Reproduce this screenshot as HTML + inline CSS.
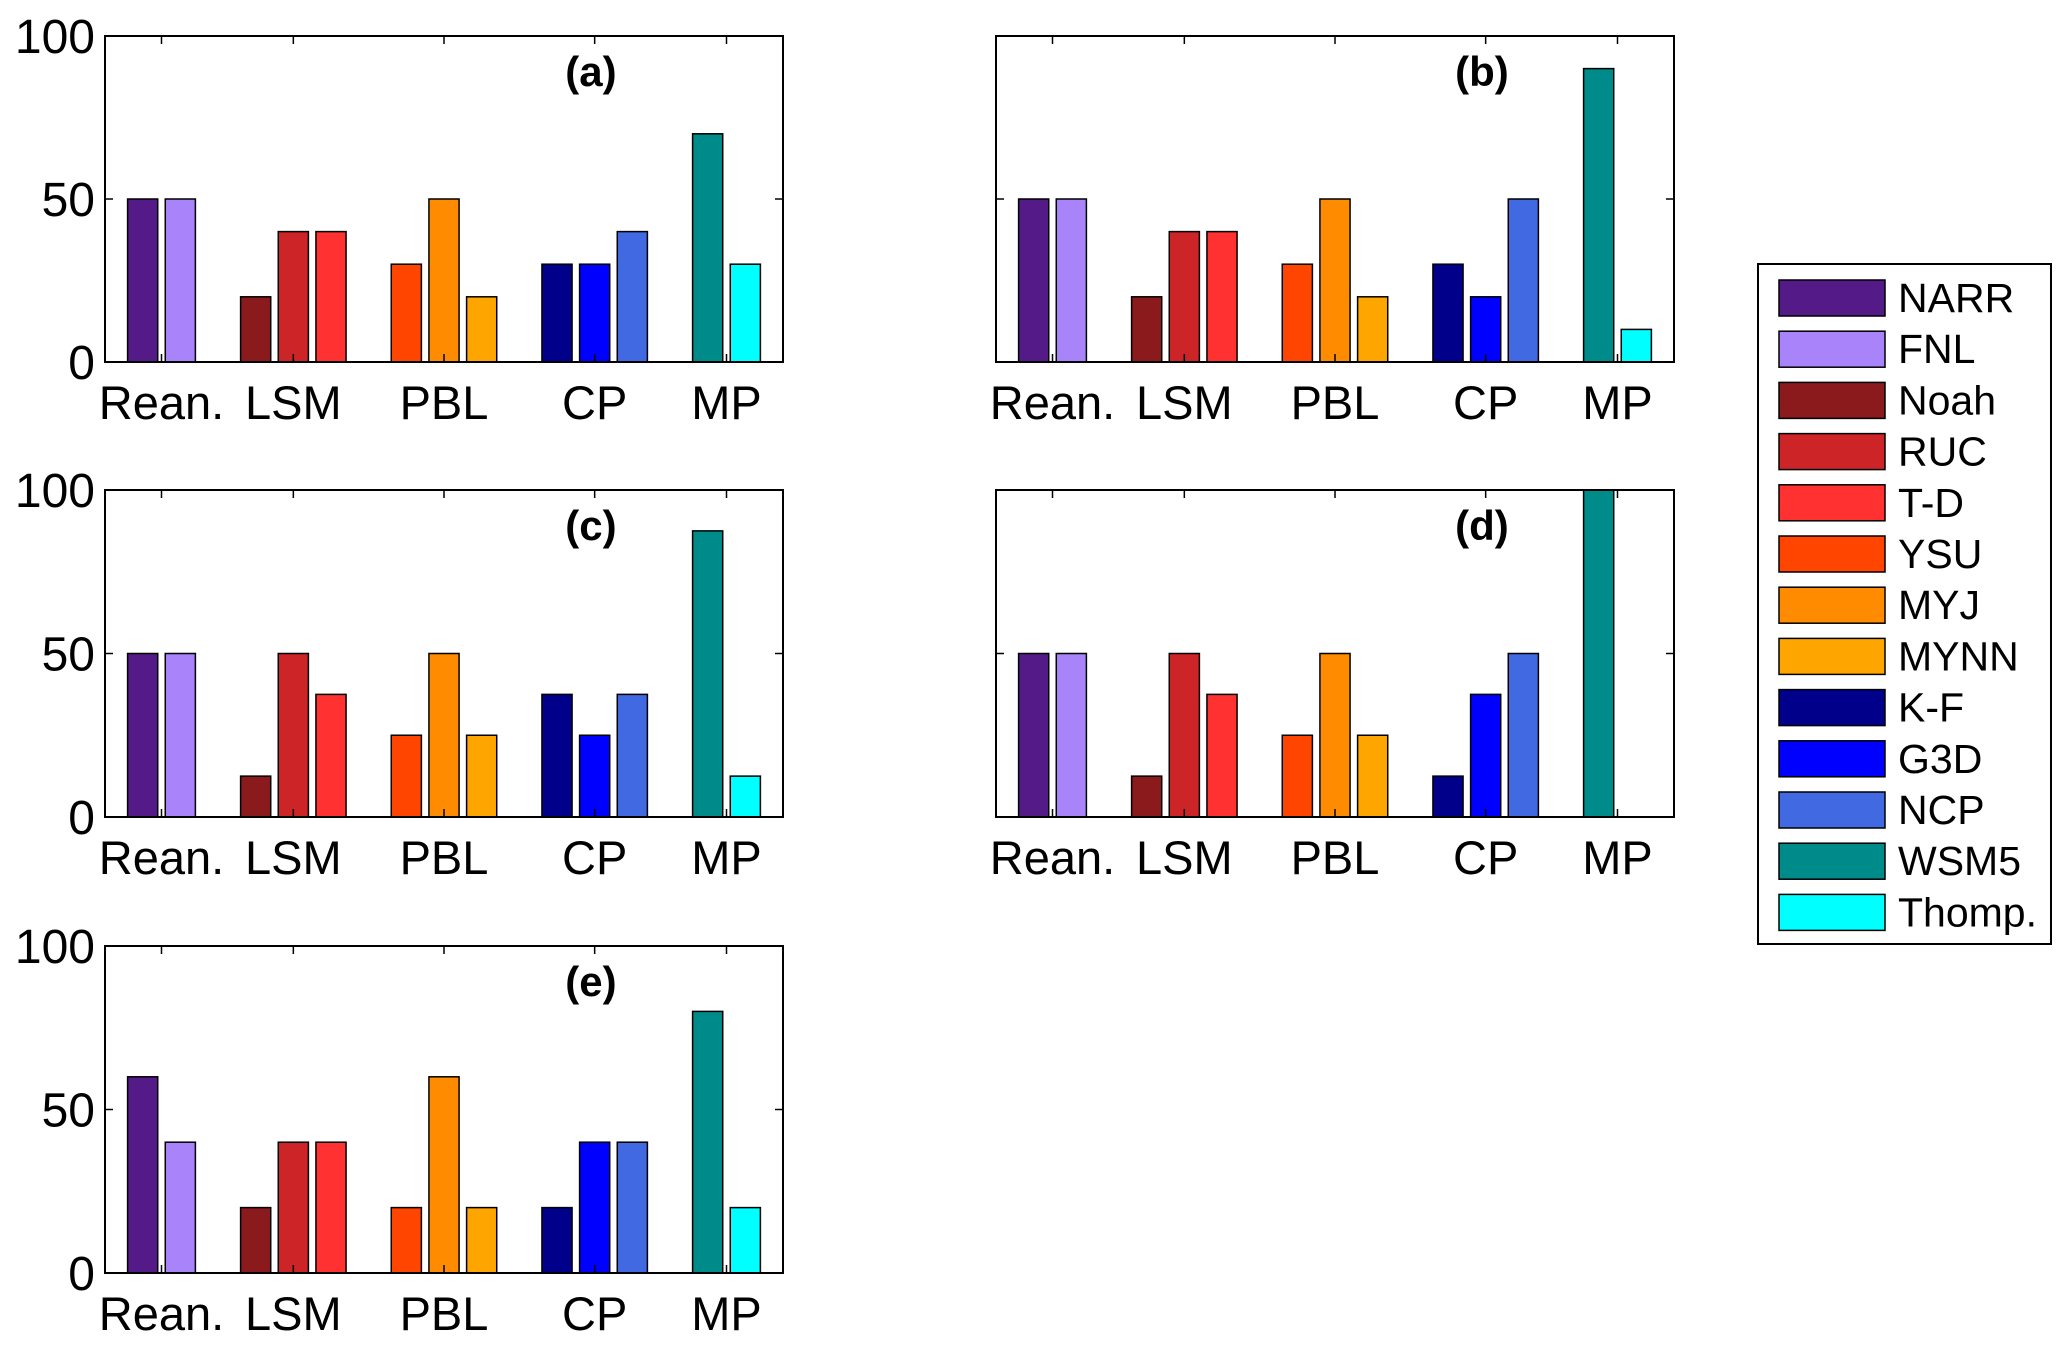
<!DOCTYPE html>
<html><head><meta charset="utf-8"><style>
html,body{margin:0;padding:0;background:#fff;}
svg{display:block;font-family:"Liberation Sans",Arial,sans-serif;}
</style></head><body>
<svg id="fig" width="2067" height="1349" viewBox="0 0 2067 1349" xmlns="http://www.w3.org/2000/svg"></svg>
<script>
const series = ["NARR","FNL","Noah","RUC","T-D","YSU","MYJ","MYNN","K-F","G3D","NCP","WSM5","Thomp."];
const colors = ["#541a87","#a983fa","#8a1a1c","#cd2427","#ff3131","#ff4500","#ff8c00","#ffa500","#00008b","#0000ff","#4169e1","#008b8b","#00ffff"];
const slots = [1,2,4,5,6,8,9,10,12,13,14,16,17];
const groupLabels = ["Rean.","LSM","PBL","CP","MP"];
const groupCenters = [1.5,5,9,13,16.5];
const yTicks = [0,50,100];
const panelTags = ["(a)","(b)","(c)","(d)","(e)"];
const valuesA = [50,50,20,40,40,30,50,20,30,30,40,70,30];
const valuesB = [50,50,20,40,40,30,50,20,30,20,50,90,10];
const valuesC = [50,50,12.5,50,37.5,25,50,25,37.5,25,37.5,87.5,12.5];
const valuesD = [50,50,12.5,50,37.5,25,50,25,12.5,37.5,50,100,0];
const valuesE = [60,40,20,40,40,20,60,20,20,40,40,80,20];

const NS="http://www.w3.org/2000/svg";
const svg=document.getElementById('fig');
function mk(tag,attrs,parent){const e=document.createElementNS(NS,tag);for(const k in attrs)e.setAttribute(k,attrs[k]);(parent||svg).appendChild(e);return e;}

const panels=[
 {vals:valuesA,x0:105,x1:783,y0:36,y1:362,yl:true},
 {vals:valuesB,x0:996,x1:1674,y0:36,y1:362,yl:false},
 {vals:valuesC,x0:105,x1:783,y0:490,y1:817,yl:true},
 {vals:valuesD,x0:996,x1:1674,y0:490,y1:817,yl:false},
 {vals:valuesE,x0:105,x1:783,y0:946,y1:1273,yl:true}
];
panels.forEach((p,pi)=>{
  const g=mk('g',{});
  
  
  const xs=v=>p.x0+(v/18)*(p.x1-p.x0);
  const ys=v=>p.y1-(v/100)*(p.y1-p.y0);
  p.vals.forEach((v,i)=>{
    if(v<=0)return;
    const w=0.8*(p.x1-p.x0)/18;
    const r=mk('rect',{x:xs(slots[i])-w/2,y:ys(v),width:w,height:ys(0)-ys(v),fill:colors[i],stroke:'#000','stroke-width':1.5},g);
    
    
  });
  const ax=mk('rect',{x:p.x0,y:p.y0,width:p.x1-p.x0,height:p.y1-p.y0,fill:'none',stroke:'#000','stroke-width':2},g);
  
  
  yTicks.forEach(t=>{
    const y=ys(t);
    mk('line',{x1:p.x0,x2:p.x0+8,y1:y,y2:y,stroke:'#000','stroke-width':1.5},g);
    mk('line',{x1:p.x1,x2:p.x1-8,y1:y,y2:y,stroke:'#000','stroke-width':1.5},g);
    if(p.yl){
      const tx=mk('text',{x:p.x0-10,y:y+17,'text-anchor':'end','font-size':48},g);
      tx.textContent=t;
      
      
    }
  });
  groupCenters.forEach((c,i)=>{
    const x=xs(c);
    mk('line',{x1:x,x2:x,y1:p.y1,y2:p.y1-8,stroke:'#000','stroke-width':1.5},g);
    mk('line',{x1:x,x2:x,y1:p.y0,y2:p.y0+8,stroke:'#000','stroke-width':1.5},g);
    const tx=mk('text',{x:x,y:p.y1+57,'text-anchor':'middle','font-size':47},g);
    tx.textContent=groupLabels[i];
    
    
  });
  const tg=mk('text',{x:xs(12.9),y:p.y0+50,'text-anchor':'middle','font-size':42,'font-weight':'bold'},g);
  tg.textContent=panelTags[pi];
  
  
});
const lg=mk('g',{});


mk('rect',{x:1758,y:264,width:293,height:680,fill:'#fff',stroke:'#000','stroke-width':2},lg);
series.forEach((s,i)=>{
  const cy=298+i*51.2;
  const r=mk('rect',{x:1779,y:cy-18,width:106,height:36,fill:colors[i],stroke:'#000','stroke-width':1.5},lg);
  
  
  const t=mk('text',{x:1898,y:cy+14,'font-size':41},lg);
  t.textContent=s;
  
  
});
</script>
</body></html>
